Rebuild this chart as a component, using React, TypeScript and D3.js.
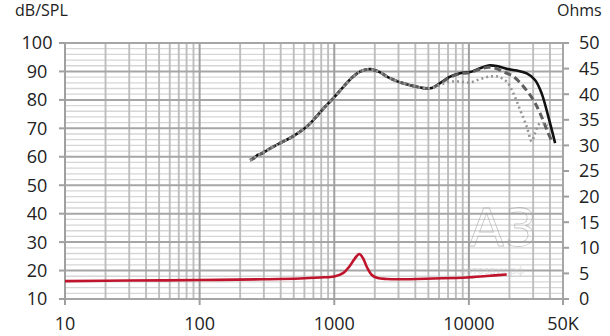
import React from "react";
import * as d3 from "d3";

// ---- data ----
const xTickLabels = ["10", "100", "1000", "10000", "50K"];
const xTickValues = [10, 100, 1000, 10000, 50000];
const leftTicks = [10, 20, 30, 40, 50, 60, 70, 80, 90, 100];
const rightTicks = [0, 5, 10, 15, 20, 25, 30, 35, 40, 45, 50];

// shared low-frequency part of the three SPL curves [Hz, dB]
const splCommon: [number, number][] = [
  [237, 58.8], [255, 59.6], [268, 60.6], [282, 60.9], [300, 61.6], [330, 62.8],
  [395, 64.8], [470, 66.6], [540, 68.4], [625, 70.6], [720, 73.6], [840, 77.2],
  [984, 80.6], [1150, 84.2], [1350, 87.8], [1550, 89.9], [1700, 90.6], [1845, 90.8],
  [2000, 90.4], [2190, 89.7], [2500, 88.0], [2910, 86.6], [3400, 85.6], [4100, 84.6],
  [4700, 84.1], [5300, 84.2],
];
const splOnAxisTail: [number, number][] = [
  [6110, 85.9], [7250, 88.2], [8600, 89.4], [10200, 89.8], [11000, 90.3], [12100, 91.1],
  [13960, 92.1], [16100, 91.9], [19100, 90.9], [22680, 90.3], [26900, 89.3],
  [31000, 87.0], [34700, 82.3], [38900, 74.1], [43700, 64.8],
];
const spl15Tail: [number, number][] = [
  [6110, 85.7], [7250, 88.0], [8600, 89.2], [10200, 89.6], [12100, 90.8], [14000, 91.5],
  [16000, 91.0], [18000, 89.9], [21400, 88.2], [25400, 84.7], [30100, 80.0],
  [33800, 75.3], [37900, 69.5], [41300, 65.4],
];
const spl30Tail: [number, number][] = [
  [6110, 85.3], [7250, 86.4], [8600, 86.4], [10200, 86.1], [12100, 87.3], [14300, 88.2],
  [16400, 88.2], [19100, 86.4], [21400, 82.3], [24000, 76.5], [26900, 70.6],
  [29300, 65.4], [31000, 68.3], [33800, 71.8], [38900, 71.2],
];
// impedance [Hz, Ohm]
const impedance: [number, number][] = [
  [10, 3.5], [30, 3.6], [100, 3.7], [300, 3.85], [557, 4.0], [783, 4.2], [1000, 4.4],
  [1170, 5.1], [1300, 6.4], [1420, 7.9], [1535, 8.8], [1640, 7.9], [1750, 6.2],
  [1900, 4.7], [2100, 4.1], [2460, 3.9], [3085, 3.85], [5450, 4.0], [9640, 4.2],
  [13600, 4.5], [19100, 4.8],
];

const W = 610, H = 336;
const L = 65, R = 563, T = 43, B = 299;

export default function App() {
  const x = d3.scaleLog().domain([10, 50000]).range([L, R]);
  const yL = d3.scaleLinear().domain([10, 100]).range([B, T]);
  const yR = d3.scaleLinear().domain([0, 50]).range([B, T]);

  const vMinor: number[] = [];
  const vMajor: number[] = [];
  for (let p = 1; p <= 4; p++) {
    for (let k = 1; k <= 9; k++) {
      const f = k * Math.pow(10, p);
      if (f > 50000) continue;
      if (k === 1) vMajor.push(f);
      else vMinor.push(f);
    }
  }
  const hMinor: number[] = [];
  for (let v = 12; v < 100; v += 2) if (v % 10 !== 0) hMinor.push(v);

  const lineL = d3
    .line<[number, number]>()
    .x((d) => x(d[0]))
    .y((d) => yL(d[1]))
    .curve(d3.curveCatmullRom.alpha(0.5));
  const lineR = d3
    .line<[number, number]>()
    .x((d) => x(d[0]))
    .y((d) => yR(d[1]))
    .curve(d3.curveCatmullRom.alpha(0.5));

  const font = "'Open Sans', 'DejaVu Sans', sans-serif";

  return (
    <svg
      width={W}
      height={H}
      style={{ position: "absolute", left: 0, top: 0, background: "#fff" }}
      fontFamily={font}
    >
      <rect width={W} height={H} fill="#fff" />
      {hMinor.map((v) => (
        <line key={"hm" + v} x1={L} x2={R} y1={yL(v)} y2={yL(v)} stroke="#d6d6d6" strokeWidth={1.3} />
      ))}
      {vMinor.map((f) => (
        <line key={"vm" + f} x1={x(f)} x2={x(f)} y1={T} y2={B} stroke="#bdbdbd" strokeWidth={1.9} />
      ))}
      {leftTicks.map((v) => (
        <line key={"hM" + v} x1={L} x2={R} y1={yL(v)} y2={yL(v)} stroke="#a6a6a6" strokeWidth={2} />
      ))}
      {vMajor.map((f) => (
        <line key={"vM" + f} x1={x(f)} x2={x(f)} y1={T} y2={B} stroke="#a0a0a0" strokeWidth={2} />
      ))}
      <line x1={R} x2={R} y1={T} y2={B} stroke="#a6a6a6" strokeWidth={2} />

      {leftTicks.map((v) => (
        <line key={"lt" + v} x1={L - 6} x2={L} y1={yL(v)} y2={yL(v)} stroke="#a0a0a0" strokeWidth={2} />
      ))}
      {rightTicks.map((v) => (
        <line key={"rt" + v} x1={R} x2={R + 6} y1={yR(v)} y2={yR(v)} stroke="#a0a0a0" strokeWidth={2} />
      ))}
      {xTickValues.map((f) => (
        <line key={"bt" + f} x1={x(f)} x2={x(f)} y1={B} y2={B + 6} stroke="#a0a0a0" strokeWidth={2} />
      ))}

      <g opacity={0.55}>
        <text x={503} y={246} textAnchor="middle" fontSize={52} fill="none" stroke="#9a9a9a" strokeWidth={0.8} fontFamily="'DejaVu Sans', sans-serif">
          A3
        </text>
        <text x={492} y={274} textAnchor="middle" fontSize={11} fill="#c8c8c8">
          автозвук.рф
        </text>
      </g>

      <path d={lineL([...splCommon, ...splOnAxisTail]) || ""} fill="none" stroke="#111" strokeWidth={2.6} />
      <path d={lineL([...splCommon, ...spl15Tail]) || ""} fill="none" stroke="#5e5e5e" strokeWidth={3} strokeDasharray="7,4" />
      <path d={lineL([...splCommon, ...spl30Tail]) || ""} fill="none" stroke="#969696" strokeWidth={2.6} strokeDasharray="2,3" />
      <path d={lineR(impedance) || ""} fill="none" stroke="#c0142c" strokeWidth={2.6} />

      {leftTicks.map((v) => (
        <text key={"ll" + v} x={37} y={yL(v)} dy="0.36em" textAnchor="middle" fontSize={18} fill="#222">
          {v}
        </text>
      ))}
      {rightTicks.map((v) => (
        <text key={"rl" + v} x={579} y={yR(v)} dy="0.36em" textAnchor="start" fontSize={18} fill="#222">
          {v}
        </text>
      ))}
      {xTickValues.map((f, i) => (
        <text key={"xl" + f} x={x(f)} y={330} textAnchor="middle" fontSize={18} fill="#222">
          {xTickLabels[i]}
        </text>
      ))}
      <text x={15} y={16} fontSize={16} fill="#222">dB/SPL</text>
      <text x={557} y={16} fontSize={16} fill="#222">Ohms</text>
    </svg>
  );
}
